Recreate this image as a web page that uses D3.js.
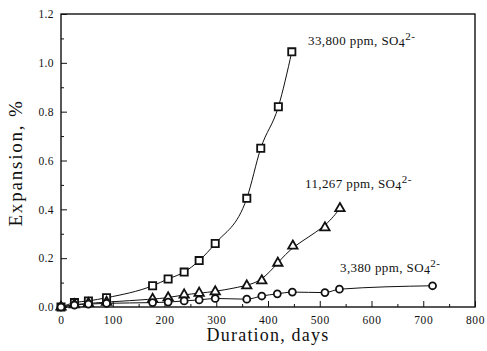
<!DOCTYPE html>
<html>
<head>
<meta charset="utf-8">
<script src="https://cdn.jsdelivr.net/npm/d3@7/dist/d3.min.js"></script>
<style>
  body { margin: 0; background: #fff; }
  svg text { font-family: "Liberation Serif", "DejaVu Serif", serif; fill: #111; }
</style>
</head>
<body>
<script>
var w = 487;
var h = 351;

var sqDays = [0, 26, 53, 88, 177, 207, 238, 267, 298, 359, 386, 420, 446];
var sqVals = [0, 0.018, 0.025, 0.038, 0.087, 0.115, 0.143, 0.19, 0.26, 0.445, 0.65, 0.82, 1.045];

var triDays = [0, 26, 53, 88, 177, 207, 238, 267, 298, 359, 388, 419, 448, 510, 539];
var triVals = [0, 0.01, 0.015, 0.02, 0.032, 0.038, 0.05, 0.057, 0.063, 0.087, 0.108, 0.18, 0.25, 0.325, 0.404];

var cirDays = [0, 26, 53, 88, 177, 207, 238, 267, 298, 359, 388, 418, 447, 510, 538, 718];
var cirVals = [0, 0.008, 0.012, 0.015, 0.018, 0.02, 0.025, 0.029, 0.035, 0.032, 0.045, 0.054, 0.061, 0.059, 0.073, 0.087];

var xTicks = [0, 100, 200, 300, 400, 500, 600, 700, 800];
var yTicks = [0, 0.2, 0.4, 0.6, 0.8, 1.0, 1.2];

var labels = ["33,800 ppm, SO", "11,267 ppm, SO", "3,380 ppm, SO"];

var x = d3.scaleLinear().domain([0, 800]).range([61, 475]);
var y = d3.scaleLinear().domain([0, 1.2]).range([307, 14]);

var svg = d3.select("body").append("svg")
  .attr("width", w)
  .attr("height", h);

// frame
svg.append("rect")
  .attr("x", x(0)).attr("y", y(1.2))
  .attr("width", x(800) - x(0)).attr("height", y(0) - y(1.2))
  .attr("fill", "none").attr("stroke", "#111").attr("stroke-width", 1.4);

// x axis, ticks inward
var xAxis = d3.axisBottom(x).tickValues(xTicks).tickSize(-6).tickPadding(9).tickFormat(d3.format("d"));
var gx = svg.append("g").attr("transform", "translate(0," + y(0) + ")").call(xAxis);
gx.select(".domain").remove();
gx.selectAll("text").attr("font-size", 11.5).attr("letter-spacing", 0.6);
svg.append("g").attr("transform", "translate(0," + y(0) + ")")
  .call(d3.axisBottom(x).tickValues(d3.range(50, 800, 100)).tickSize(-3).tickFormat(""))
  .select(".domain").remove();

// y axis
var yAxis = d3.axisLeft(y).tickValues(yTicks).tickSize(-6).tickPadding(7).tickFormat(d3.format(".1f"));
var gy = svg.append("g").attr("transform", "translate(" + x(0) + ",0)").call(yAxis);
gy.select(".domain").remove();
gy.selectAll("text").attr("font-size", 11.5).attr("letter-spacing", 0.4);
svg.append("g").attr("transform", "translate(" + x(0) + ",0)")
  .call(d3.axisLeft(y).tickValues(d3.range(0.1, 1.2, 0.2)).tickSize(-3).tickFormat(""))
  .select(".domain").remove();

svg.selectAll(".tick line").attr("stroke", "#111");

// axis titles
svg.append("text")
  .attr("x", 268).attr("y", 341)
  .attr("text-anchor", "middle").attr("font-size", 18).attr("letter-spacing", 1.2)
  .text("Duration, days");
svg.append("text")
  .attr("transform", "translate(22,163) rotate(-90)")
  .attr("text-anchor", "middle").attr("font-size", 19).attr("letter-spacing", 1.8)
  .text("Expansion, %");

var series = [
  { days: sqDays, vals: sqVals, shape: "square", curve: d3.curveMonotoneX },
  { days: triDays, vals: triVals, shape: "triangle", curve: d3.curveBasis },
  { days: cirDays, vals: cirVals, shape: "circle", curve: d3.curveMonotoneX }
];

var line = d3.line().x(d => x(d[0])).y(d => y(d[1]));

series.forEach(s => {
  var pts = s.days.map((d, i) => [d, s.vals[i]]);
  svg.append("path")
    .datum(pts)
    .attr("d", line.curve(s.curve))
    .attr("fill", "none")
    .attr("stroke", "#111")
    .attr("stroke-width", 1);

  var sym = s.shape == "square" ? d3.symbolSquare : s.shape == "triangle" ? d3.symbolTriangle : d3.symbolCircle;
  var size = s.shape == "square" ? 52 : s.shape == "triangle" ? 38 : 38;
  svg.append("g").selectAll("path")
    .data(pts)
    .enter()
    .append("path")
    .attr("transform", d => "translate(" + x(d[0]) + "," + y(d[1]) + ")")
    .attr("d", d3.symbol().type(sym).size(size))
    .attr("fill", "#fff")
    .attr("stroke", "#111")
    .attr("stroke-width", 1.8);
});

// series labels
var labelPos = [[308, 45], [305, 188], [340, 272]];
labels.forEach((t, i) => {
  var tx = svg.append("text")
    .attr("x", labelPos[i][0]).attr("y", labelPos[i][1])
    .attr("font-size", 13).attr("letter-spacing", 0.4);
  tx.append("tspan").text(t);
  tx.append("tspan").attr("font-size", 12).attr("dy", 2).text("4");
  tx.append("tspan").attr("font-size", 11).attr("dy", -7).text("2-");
});
</script>
</body>
</html>
